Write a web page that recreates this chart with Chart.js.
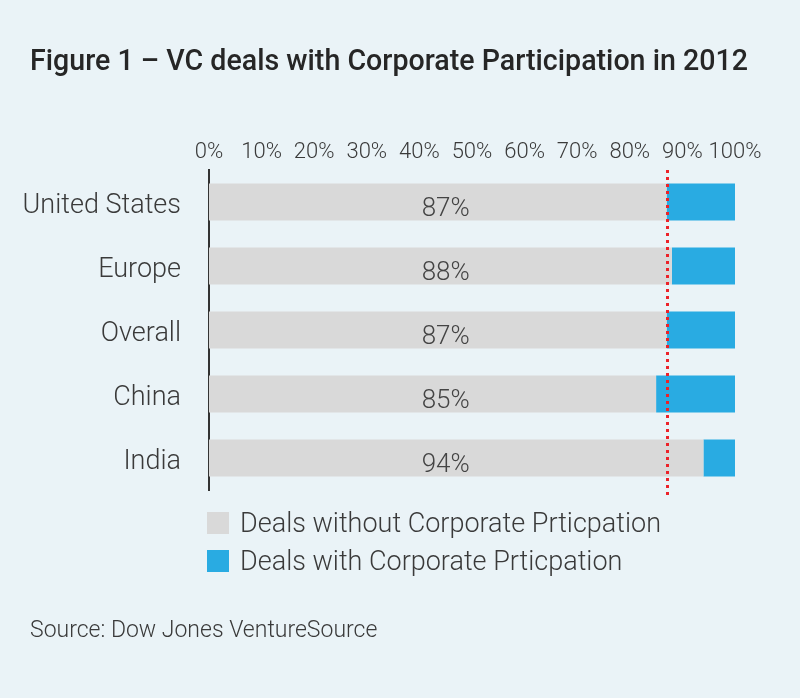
<!DOCTYPE html>
<html>
<head>
<meta charset="utf-8">
<script src="https://cdn.jsdelivr.net/npm/chart.js@4.4.1/dist/chart.umd.min.js"></script>
<style>
  body { margin: 0; background: #eaf3f7; }
  #wrap { position: relative; width: 800px; height: 698px; font-family: Roboto, "Open Sans", sans-serif; color: #3a3a3a; }
  canvas { position: absolute; left: 0; top: 0; }
  #title { position: absolute; left: 30px; top: 42px; margin: 0; font-size: 30px; font-weight: 500; color: #262626; white-space: nowrap; transform-origin: left top; }
  #legend { position: absolute; left: 207px; top: 504px; }
  .item { display: flex; align-items: center; height: 38px; font-size: 27px; font-weight: 300; color: #3a3a3a; }
  .box { width: 22px; height: 22px; margin-right: 11px; }
  #source { position: absolute; left: 30px; top: 616px; font-size: 23px; font-weight: 300; color: #3a3a3a; }
</style>
</head>
<body>
<div id="wrap">
  <canvas id="chart" width="800" height="698"></canvas>
  <h1 id="title">Figure 1 – VC deals with Corporate Participation in 2012</h1>
  <div id="legend"></div>
  <div id="source">Source: Dow Jones VentureSource</div>
</div>
<script>
const categories = ['United States', 'Europe', 'Overall', 'China', 'India'];
const withoutCorporate = [87, 88, 87, 85, 94];
const withCorporate = [13, 12, 13, 15, 6];
const seriesNames = ['Deals without Corporate Prticpation', 'Deals with Corporate Prticpation'];
const seriesColors = ['#d9d9d9', '#29abe2'];
const xTicks = [0, 10, 20, 30, 40, 50, 60, 70, 80, 90, 100];
const overallIndex = 2;

// squeeze the title to the width of the condensed original
const title = document.getElementById('title');
const targetWidth = 718;
const w = title.getBoundingClientRect().width;
if (w > targetWidth) title.style.transform = 'scaleX(' + (targetWidth / w) + ')';

const legend = document.getElementById('legend');
seriesNames.forEach((name, i) => {
  const item = document.createElement('div');
  item.className = 'item';
  item.innerHTML = '<span class="box" style="background:' + seriesColors[i] + '"></span>' + name;
  legend.appendChild(item);
});

// value labels sit in one column, a bit left of the bar middles
const valueLabels = {
  id: 'valueLabels',
  afterDatasetsDraw(chart) {
    const ctx = chart.ctx;
    const meta = chart.getDatasetMeta(0);
    const x = chart.scales.x.getPixelForValue(45);
    ctx.save();
    ctx.font = '300 26px Roboto, sans-serif';
    ctx.fillStyle = '#444';
    ctx.textAlign = 'center';
    ctx.textBaseline = 'middle';
    meta.data.forEach((bar, i) => {
      ctx.fillText(withoutCorporate[i] + '%', x, bar.y + 7);
    });
    ctx.restore();
  }
};

const overallLine = {
  id: 'overallLine',
  afterDatasetsDraw(chart) {
    const ctx = chart.ctx;
    const x = Math.round(chart.scales.x.getPixelForValue(withoutCorporate[overallIndex])) + 0.5;
    ctx.save();
    ctx.strokeStyle = '#ec2229';
    ctx.lineWidth = 3;
    ctx.setLineDash([3, 4]);
    ctx.beginPath();
    ctx.moveTo(x, chart.chartArea.top);
    ctx.lineTo(x, chart.chartArea.bottom + 6);
    ctx.stroke();
    ctx.restore();
  }
};

new Chart(document.getElementById('chart'), {
  type: 'bar',
  data: {
    labels: categories,
    datasets: [
      { label: seriesNames[0], data: withoutCorporate, backgroundColor: seriesColors[0] },
      { label: seriesNames[1], data: withCorporate, backgroundColor: seriesColors[1] }
    ]
  },
  options: {
    indexAxis: 'y',
    responsive: false,
    animation: false,
    barPercentage: 1,
    categoryPercentage: 0.58,
    layout: { padding: { left: 0, right: 65, top: 130, bottom: 208 } },
    plugins: {
      legend: { display: false },
      tooltip: { enabled: false }
    },
    scales: {
      x: {
        position: 'top',
        stacked: true,
        min: 0,
        max: 100,
        afterBuildTicks: (s) => { s.ticks = xTicks.map(v => ({ value: v })); },
        afterFit: (s) => { s.height = 40; },
        grid: { display: false, drawTicks: false },
        border: { display: false },
        ticks: {
          padding: 4,
          autoSkip: false,
          maxRotation: 0,
          minRotation: 0,
          color: '#3a3a3a',
          font: { family: 'Roboto', size: 22, weight: 300 },
          callback: (v) => v + '%'
        }
      },
      y: {
        stacked: true,
        afterFit: (s) => { s.width = 209; },
        grid: { display: false },
        border: { display: true, color: '#333', width: 2 },
        ticks: {
          padding: 20,
          labelOffset: 4,
          color: '#3a3a3a',
          font: { family: 'Roboto', size: 27, weight: 300 }
        }
      }
    }
  },
  plugins: [valueLabels, overallLine]
});
</script>
</body>
</html>
